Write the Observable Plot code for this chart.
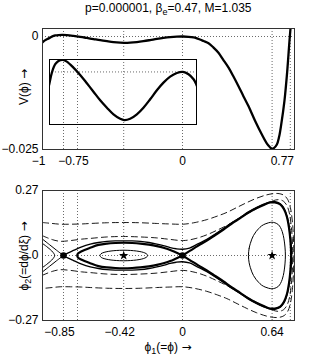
<!DOCTYPE html>
<html><head><meta charset="utf-8">
<script src="https://cdn.jsdelivr.net/npm/d3@7"></script>
<script src="https://cdn.jsdelivr.net/npm/@observablehq/plot@0.6"></script>
<style>
body{margin:0;background:#fff;}
#chart{position:relative;width:325px;height:361px;font-family:"Liberation Sans",Arial,Helvetica,sans-serif;}
#chart > *{position:absolute;}
</style></head><body><div id="chart"></div>
<script>
// ---------- ticks / grid ----------
const gridX = [-0.85, -0.75, -0.42, 0, 0.64, 0.77];
const topTickX = [-1, -0.75, 0, 0.77];
const topTickXLabels = ["−1", "−0.75", "0", "0.77"];
const topTickY = [0, -0.025];
const topTickYLabels = ["0", "−0.025"];
const botTickX = [-0.85, -0.42, 0, 0.64];
const botTickXLabels = ["−0.85", "−0.42", "0", "0.64"];
const botTickY = [0.27, 0, -0.27];
const botTickYLabels = ["0.27", "0", "−0.27"];

// ---------- potential V(phi) ----------
const potPhi = [-1.0, -0.98, -0.965, -0.952, -0.933, -0.909, -0.886, -0.854, -0.826, -0.779, -0.731, -0.683, -0.636, -0.588, -0.54, -0.493, -0.445, -0.416, -0.374, -0.326, -0.279, -0.231, -0.183, -0.136, -0.088, -0.04, 0.003, 0.043, 0.079, 0.098, 0.12, 0.15, 0.186, 0.22, 0.257, 0.29, 0.329, 0.365, 0.4, 0.435, 0.471, 0.519, 0.567, 0.603, 0.625, 0.638, 0.652, 0.674, 0.69, 0.705, 0.728, 0.748, 0.764, 0.772, 0.78];
const potV = [-0.0013, -0.0008, -0.00055, -0.00036, -0.00002, 0.000223, 0.000319, 0.000348, 0.000299, 0.000125, -0.000087, -0.000328, -0.000571, -0.00082, -0.001035, -0.001226, -0.001354, -0.001391, -0.001354, -0.001226, -0.001035, -0.000791, -0.00053, -0.00031, -0.000136, -0.00003, 0, -0.000067, -0.000212, -0.000357, -0.0006, -0.001, -0.0015, -0.0024, -0.0036, -0.0051, -0.0069, -0.0089, -0.011, -0.0132, -0.0154, -0.0187, -0.0217, -0.0237, -0.0245, -0.0248, -0.0247, -0.0239, -0.0222, -0.0195, -0.0143, -0.0077, -0.001, 0.002, 0.005];

// ---------- phase portrait (upper halves; curves are symmetric in phi2) ----------
const lensX = [-0.752, -0.745, -0.72, -0.66, -0.6, -0.54, -0.48, -0.42, -0.36, -0.3, -0.24, -0.183, -0.13, -0.088, -0.045, 0];
const lensY = [0, 0.009, 0.018, 0.032, 0.044, 0.0495, 0.052, 0.053, 0.052, 0.0495, 0.045, 0.039, 0.031, 0.023, 0.012, 0];
const loopX = [0, 0.055, 0.11, 0.174, 0.234, 0.293, 0.35, 0.412, 0.471, 0.531, 0.58, 0.626, 0.66, 0.698, 0.725, 0.746, 0.76, 0.77, 0.776];
const loopY = [0, 0.02, 0.04, 0.062, 0.085, 0.108, 0.132, 0.155, 0.178, 0.197, 0.21, 0.22, 0.22, 0.212, 0.192, 0.16, 0.118, 0.068, 0];
const s0LeftX = [-1, -0.97, -0.945, -0.925, -0.913];
const s0LeftY = [0.05, 0.037, 0.025, 0.013, 0];
const s1LeftX = [-1, -0.95, -0.9, -0.85];
const s1LeftY = [0.068, 0.045, 0.022, 0];
const s1X = [-0.85, -0.82, -0.779, -0.72, -0.659, -0.6, -0.54, -0.48, -0.42, -0.36, -0.3, -0.24, -0.183, -0.13, -0.088, -0.045, 0, 0.05, 0.1, 0.174, 0.234, 0.293, 0.35, 0.412, 0.471, 0.531, 0.58, 0.626, 0.66, 0.698, 0.725, 0.746, 0.762, 0.773, 0.779];
const s1Y = [0, 0.01, 0.021, 0.036, 0.047, 0.054, 0.0586, 0.0605, 0.061, 0.0605, 0.0586, 0.054, 0.0475, 0.04, 0.033, 0.028, 0.026, 0.031, 0.045, 0.067, 0.089, 0.112, 0.135, 0.158, 0.181, 0.2, 0.213, 0.2225, 0.2235, 0.215, 0.196, 0.164, 0.12, 0.068, 0];
const ellX = [-0.59, -0.58, -0.56, -0.53, -0.49, -0.45, -0.42, -0.39, -0.35, -0.31, -0.28, -0.26, -0.248];
const ellY = [0, 0.008, 0.013, 0.017, 0.02, 0.0215, 0.022, 0.0215, 0.02, 0.017, 0.013, 0.008, 0];
const rlX = [0.471, 0.476, 0.484, 0.495, 0.507, 0.525, 0.543, 0.565, 0.59, 0.615, 0.638, 0.66, 0.685, 0.7, 0.712, 0.72, 0.727, 0.732, 0.735];
const rlY = [0, 0.03, 0.049, 0.068, 0.083, 0.099, 0.111, 0.123, 0.131, 0.136, 0.138, 0.136, 0.128, 0.116, 0.1, 0.083, 0.06, 0.035, 0];
const d1X = [-1, -0.93, -0.874, -0.8, -0.72, -0.659, -0.54, -0.42, -0.3, -0.183, -0.09, 0.005, 0.09, 0.174, 0.25, 0.317, 0.39, 0.46, 0.53, 0.602, 0.65, 0.686, 0.72, 0.746, 0.765, 0.777, 0.784, 0.787];
const d1Y = [0.082, 0.066, 0.059, 0.062, 0.068, 0.071, 0.077, 0.079, 0.077, 0.073, 0.067, 0.062, 0.07, 0.086, 0.106, 0.125, 0.149, 0.172, 0.195, 0.216, 0.228, 0.232, 0.226, 0.207, 0.172, 0.12, 0.07, 0];
const d2X = [-1, -0.93, -0.874, -0.8, -0.72, -0.659, -0.54, -0.42, -0.3, -0.183, -0.09, 0.005, 0.09, 0.174, 0.25, 0.317, 0.39, 0.46, 0.53, 0.602, 0.65, 0.69, 0.725, 0.752, 0.772, 0.785, 0.792, 0.795];
const d2Y = [0.137, 0.133, 0.13, 0.13, 0.131, 0.133, 0.136, 0.137, 0.136, 0.133, 0.131, 0.13, 0.137, 0.149, 0.164, 0.179, 0.2, 0.22, 0.238, 0.252, 0.257, 0.257, 0.25, 0.232, 0.195, 0.14, 0.08, 0];
const saddleX = [-0.85, 0];
const centerX = [-0.42, 0.64];

// ---------- helpers ----------
const pts = (xs, ys) => xs.map((x, i) => ({x, y: ys[i]}));
const mirror = (xs, ys) => pts(xs, ys).map(d => ({x: d.x, y: -d.y}));
const around = (xs, ys) => pts(xs, ys).concat(mirror(xs, ys).reverse().slice(1));
const closedLoop = (xs, ys) => pts(xs, ys).concat(mirror(xs, ys).reverse().slice(1, -1));
const aroundFromRight = (xs, ys) => pts(xs, ys).reverse().concat(mirror(xs, ys).slice(1));

const FONT = "'Liberation Sans', Arial, Helvetica, sans-serif";
const ARROW_FONT = "'DejaVu Sans', sans-serif";
const grid = {stroke: "#444", strokeWidth: 0.8, strokeDasharray: "1,2"};
const frameStyle = {stroke: "#333", strokeWidth: 1};
const root = document.getElementById("chart");

function xLabels(ticks, labels) {
  const data = ticks.map((x, i) => ({x, label: labels[i]}));
  const common = {x: "x", text: "label", frameAnchor: "bottom", dy: 12, lineAnchor: "middle", fontSize: 12, fill: "black"};
  return [
    Plot.text(data.filter(d => d.label.startsWith("−")), {...common, dx: -4}),
    Plot.text(data.filter(d => d.label === "0" || d.label === "0.64"), common),
    Plot.text(data.filter(d => d.label === "0.77"), {...common, dx: -8})
  ];
}
function yLabels(ticks, labels) {
  const data = ticks.map((y, i) => ({y, label: labels[i]}));
  return Plot.text(data, {y: "y", text: "label", frameAnchor: "left", textAnchor: "end", dx: -4, fontSize: 12, fill: "black"});
}

// ---------- top panel ----------
const potData = pts(potPhi, potV);
const topPlot = Plot.plot({
  width: 325, height: 175, marginTop: 28, marginBottom: 26, marginLeft: 42, marginRight: 31,
  x: {domain: [-1, 0.8], axis: null},
  y: {domain: [-0.025, 0.00177], axis: null},
  style: {fontFamily: FONT, fontSize: "12px", background: "transparent"},
  marks: [
    Plot.ruleX(gridX, grid),
    Plot.ruleY([0], grid),
    Plot.line(potData, {x: "x", y: "y", curve: "catmull-rom", stroke: "black", strokeWidth: 2.3, clip: true}),
    Plot.frame(frameStyle),
    ...xLabels(topTickX, topTickXLabels),
    yLabels(topTickY, topTickYLabels)
  ]
});
topPlot.style.left = "0px"; topPlot.style.top = "0px";
root.appendChild(topPlot);

// ---------- inset ----------
const insetPlot = Plot.plot({
  width: 149, height: 67, margin: 1,
  x: {domain: [-0.95, 0.1], axis: null},
  y: {domain: [-0.00152, 0.00036], axis: null},
  style: {background: "white"},
  marks: [
    Plot.ruleX(gridX.filter(x => x > -0.95 && x < 0.1), grid),
    Plot.ruleY([0], grid),
    Plot.line(potData, {x: "x", y: "y", curve: "catmull-rom", stroke: "black", strokeWidth: 2.3, clip: true}),
    Plot.frame({stroke: "black", strokeWidth: 1})
  ]
});
insetPlot.style.left = "48.3px"; insetPlot.style.top = "57.7px";
root.appendChild(insetPlot);

// ---------- bottom panel ----------
const thin = {x: "x", y: "y", stroke: "black", strokeWidth: 1, curve: "catmull-rom"};
const thick = {x: "x", y: "y", stroke: "black", strokeWidth: 2.2, curve: "catmull-rom"};
const dashed = {x: "x", y: "y", stroke: "black", strokeWidth: 0.9, strokeDasharray: "6,4", curve: "catmull-rom"};
const botPlot = Plot.plot({
  width: 325, height: 186, marginTop: 15, marginBottom: 41, marginLeft: 42, marginRight: 31,
  x: {domain: [-1, 0.8], axis: null},
  y: {domain: [-0.27, 0.27], axis: null},
  style: {fontFamily: FONT, fontSize: "12px", background: "transparent"},
  marks: [
    Plot.ruleX(gridX, grid),
    Plot.ruleY([0], grid),
    Plot.line(around(d1X, d1Y), {...dashed, clip: true}),
    Plot.line(around(d2X, d2Y), {...dashed, clip: true}),
    Plot.line(closedLoop(ellX, ellY), {...thin, curve: "catmull-rom-closed"}),
    Plot.line(closedLoop(rlX, rlY), {...thin, curve: "catmull-rom-closed"}),
    Plot.line(around(s0LeftX, s0LeftY), {...thin, clip: true}),
    Plot.line(pts(s1LeftX, s1LeftY), {...thin, clip: true}),
    Plot.line(mirror(s1LeftX, s1LeftY), {...thin, clip: true}),
    Plot.line(around(s1X, s1Y), {...thin, strokeWidth: 1.3}),
    Plot.line(aroundFromRight(lensX, lensY), thick),
    Plot.line(around(loopX, loopY), thick),
    Plot.dot(saddleX, {x: d => d, y: () => 0, r: 3.3, fill: "black", stroke: "none"}),
    Plot.dot(centerX, {x: d => d, y: () => 0, r: 3, symbol: "star", fill: "black", stroke: "none"}),
    Plot.frame(frameStyle),
    ...xLabels(botTickX, botTickXLabels),
    yLabels(botTickY, botTickYLabels)
  ]
});
botPlot.style.left = "0px"; botPlot.style.top = "175px";
root.appendChild(botPlot);

// ---------- titles & axis labels ----------
const svg = d3.select(root).append("svg")
  .attr("width", 325).attr("height", 361)
  .style("left", "0px").style("top", "0px").style("pointer-events", "none")
  .style("font-family", FONT).style("font-size", "12px");

const title = svg.append("text").attr("x", 168.3).attr("y", 12).attr("text-anchor", "middle");
title.append("tspan").text("p=0.000001, β");
title.append("tspan").attr("dy", 3).attr("font-size", 9).text("e");
title.append("tspan").attr("dy", -3).text("=0.47, M=1.035");

const vl = svg.append("text").attr("transform", "translate(28,87) rotate(-90)").attr("text-anchor", "middle");
vl.append("tspan").text("V(ϕ) ");
vl.append("tspan").attr("font-family", ARROW_FONT).text("→");

const yl = svg.append("text").attr("transform", "translate(28,256) rotate(-90)").attr("text-anchor", "middle");
yl.append("tspan").text("ϕ");
yl.append("tspan").attr("dy", 3).attr("font-size", 9).text("2");
yl.append("tspan").attr("dy", -3).text("(=dϕ/dξ) ");
yl.append("tspan").attr("font-family", ARROW_FONT).text("→");

const xl = svg.append("text").attr("x", 168).attr("y", 351).attr("text-anchor", "middle");
xl.append("tspan").text("ϕ");
xl.append("tspan").attr("dy", 3).attr("font-size", 9).text("1");
xl.append("tspan").attr("dy", -3).text("(=ϕ) ");
xl.append("tspan").attr("font-family", ARROW_FONT).text("→");
</script></body></html>
